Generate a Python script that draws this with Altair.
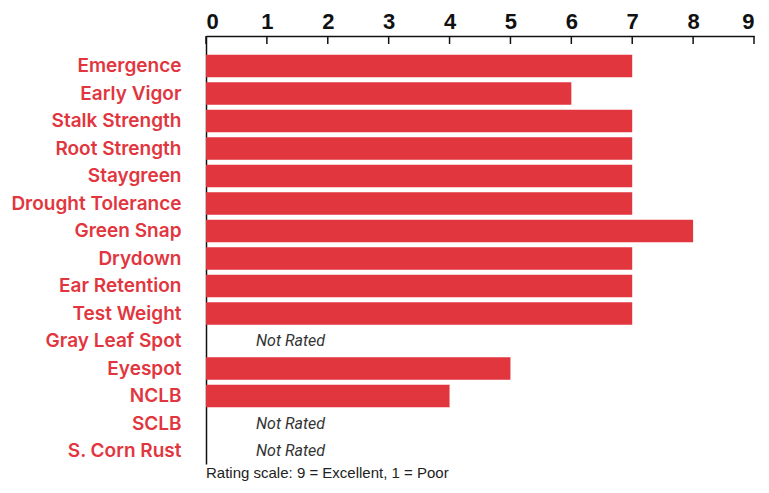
import altair as alt
import pandas as pd

traits = ["Emergence", "Early Vigor", "Stalk Strength", "Root Strength", "Staygreen",
          "Drought Tolerance", "Green Snap", "Drydown", "Ear Retention", "Test Weight",
          "Gray Leaf Spot", "Eyespot", "NCLB", "SCLB", "S. Corn Rust"]
ratings = [7, 6, 7, 7, 7, 7, 8, 7, 7, 7, None, 5, 4, None, None]
tick_values = [0, 1, 2, 3, 4, 5, 6, 7, 8, 9]
not_rated_label = "Not Rated"
footnote = "Rating scale: 9 = Excellent, 1 = Poor"

RED = "#E2363F"

df = pd.DataFrame({"trait": traits, "rating": ratings})
df["status"] = [not_rated_label if r is None or pd.isna(r) else "" for r in ratings]
df["zero"] = 0
ticks_df = pd.DataFrame({"v": tick_values})

xscale = alt.Scale(domain=[0, 9], nice=False, zero=True)
yscale = alt.Scale(paddingInner=0.182, paddingOuter=0.373, align=0.915)

x_axis = alt.Axis(orient="top", values=tick_values, ticks=False, grid=False,
                  labelFontSize=22, labelFontWeight="bold", labelFont="Liberation Sans",
                  labelColor="#111", labelPadding=3, domainColor="#111", domainWidth=1.5,
                  title=None, format="d")
y_axis = alt.Axis(ticks=False, grid=False, labelFontSize=19, labelFontWeight=600,
                  labelFont="Inter", labelColor=RED, labelPadding=25,
                  domainColor="#111", domainWidth=1.5, title=None)

bars = alt.Chart(df).transform_filter("datum.rating != null").mark_bar(color=RED).encode(
    x=alt.X("rating:Q", scale=xscale, axis=x_axis),
    y=alt.Y("trait:N", sort=traits, scale=yscale, axis=y_axis),
)

texts = alt.Chart(df).transform_filter("datum.rating == null").mark_text(
    align="left", baseline="middle", dx=50, font="Roboto", fontStyle="italic",
    fontSize=16, color="#333"
).encode(
    x=alt.X("zero:Q", scale=xscale, axis=x_axis),
    y=alt.Y("trait:N", sort=traits, scale=yscale, axis=y_axis),
    text="status:N",
)

tickmarks = alt.Chart(ticks_df).mark_rule(color="#111", strokeWidth=1.5).encode(
    x=alt.X("v:Q", scale=xscale, axis=x_axis),
    y=alt.value(0),
    y2=alt.value(8),
)

chart = alt.layer(bars, texts, tickmarks).properties(
    width=548, height=428,
    title=alt.TitleParams(footnote, orient="bottom", anchor="start", frame="group",
                          fontSize=15, font="Liberation Sans", fontWeight="normal",
                          color="#222", offset=2, baseline="top"),
    autosize=alt.AutoSizeParams(type="none"),
    padding={"left": 198, "top": 28, "right": 7, "bottom": 17},
).configure_view(stroke=None)

chart.save("out.html", embed_options={"renderer": "svg", "actions": False})
